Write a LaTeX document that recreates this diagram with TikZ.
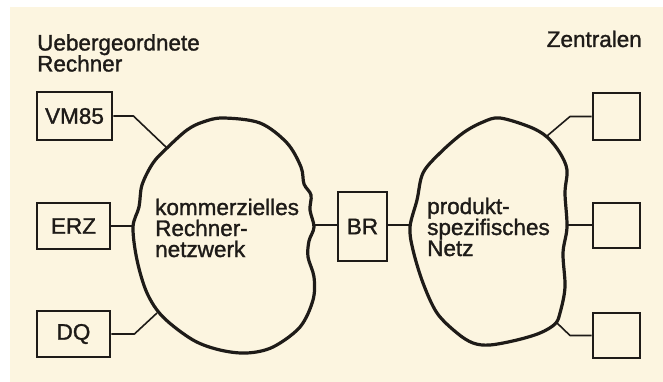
\documentclass[tikz,border=0pt]{standalone}
\usepackage{fontspec}
\setmainfont{Liberation Sans}[FakeBold=1.4]
\definecolor{paper}{RGB}{252,245,224}
\definecolor{ink}{RGB}{30,27,24}
\tikzset{
  lbl/.style={font=\fontsize{22.5}{21}\selectfont, text=ink, inner sep=0pt},
  unit/.style={draw=ink, line width=2.8pt, inner sep=0pt, font=\fontsize{22.5}{21}\selectfont, text=ink},
  cloudline/.style={draw=ink, line width=3.2pt, line join=round},
  wire/.style={draw=ink, line width=1.6pt, line join=round}
}
\begin{document}
\begin{tikzpicture}[x=1pt,y=-1pt]
\useasboundingbox (0,0) rectangle (663,382);
\fill[white] (0,0) rectangle (663,382);
\fill[paper] (10,7) rectangle (663,382);

% headings (base anchor sits on the last line)
\node[lbl, anchor=base west, align=left] (hl) at (37,71.5) {Uebergeordnete\\Rechner};
\node[lbl, anchor=base east] (hr) at (642,47) {Zentralen};

% host computers
\node[unit, minimum width=75pt, minimum height=48pt] (vm) at (74.5,116) {VM85};
\node[unit, minimum width=73pt, minimum height=46pt] (erz) at (73.5,226) {ERZ};
\node[unit, minimum width=73pt, minimum height=46pt] (dq) at (73.5,334) {DQ};

% bridge
\node[unit, minimum width=49pt, minimum height=69pt] (br) at (362.5,226.5) {BR};

% exchanges
\node[unit, minimum width=47pt, minimum height=47pt] (z1) at (616.5,116.5) {};
\node[unit, minimum width=47pt, minimum height=45pt] (z2) at (616.5,225.5) {};
\node[unit, minimum width=47pt, minimum height=45pt] (z3) at (616.5,335.5) {};

% commercial computer network
\draw[cloudline] plot[smooth cycle, tension=0.55] coordinates {
  (223,118) (260,123) (287,143) (301,167) (304,184) (311,195) (310,210)
  (314,227) (309,241) (308,257) (314,277) (313,300) (300,327) (273,347)
  (247,353) (220,350) (193,340) (163,317) (147,293) (137,260) (133,227)
  (139,207) (142,185) (153,163) (167,148) (187,130) (203,122)};
% product specific network
\draw[cloudline] plot[smooth cycle, tension=0.55] coordinates {
  (500,118) (530,127) (547,137) (560,153) (567,170) (565,193) (567,227)
  (563,253) (565,287) (560,313) (555,324) (540,333) (517,340) (490,345)
  (473,343) (457,333) (437,313) (423,283) (413,250) (410,227) (417,200)
  (423,173) (440,153) (463,133) (483,122)};

\node[lbl, anchor=base west, align=left] (n1) at (155,257) {kommerzielles\\Rechner-\\netzwerk};
\node[lbl, anchor=base west, align=left] (n2) at (427,256) {produkt-\\spezifisches\\Netz};

% attachment points on the network outlines
\coordinate (a1) at (167,148);
\coordinate (a2) at (133.5,226);
\coordinate (a3) at (157,313);
\coordinate (a4) at (314,225);
\coordinate (b1) at (410.5,225);
\coordinate (b2) at (547,136);
\coordinate (b3) at (566.5,225);
\coordinate (b4) at (557,323);

% connections
\draw[wire] (vm.east) -- ++(20,0) -- (a1);
\draw[wire] (erz.east) -- (a2);
\draw[wire] (dq.east) -- ++(23,0) -- (a3);
\draw[wire] (a4) -- (br.west |- a4);
\draw[wire] (br.east |- b1) -- (b1);
\draw[wire] (b2) -- (570,116.5) -- (z1.west);
\draw[wire] (b3) -- (z2.west |- b3);
\draw[wire] (b4) -- (570,335.5) -- (z3.west);
\end{tikzpicture}
\end{document}
